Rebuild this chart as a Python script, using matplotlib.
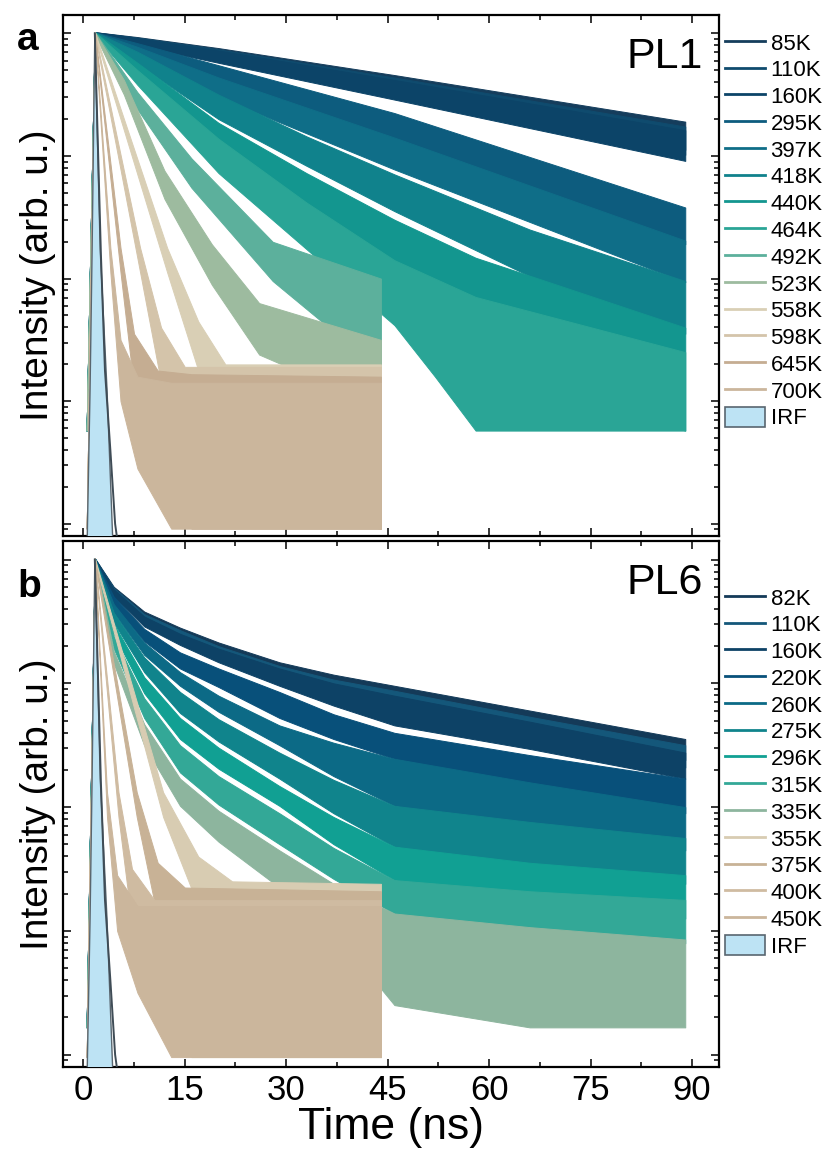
import matplotlib.pyplot as plt
from matplotlib.lines import Line2D
from matplotlib.patches import Patch
from matplotlib.ticker import MultipleLocator, LogLocator, NullFormatter
import numpy as np

plt.rcParams['font.family'] = ['Liberation Sans', 'DejaVu Sans']

# values are log10 of the normalised intensity, read off the figure as the
# upper and lower edge of each noisy trace at a few times (ns)

# ---- PL1 ----
pl1_temps = ['85K', '110K', '160K', '295K', '397K', '418K', '440K',
             '464K', '492K', '523K', '558K', '598K', '645K', '700K']
pl1_colors = ['#153d5c', '#0f4b6e', '#0c4468', '#0d5c7e', '#0f6e88', '#10828c', '#13968f',
              '#2aa596', '#5cb09c', '#9dbb9f', '#d9cfb5', '#d4c4aa', '#c5ad92', '#cbb69c']
pl1_t = [
    [0.5, 1.7, 8, 20, 46, 89],
    [0.5, 1.7, 8, 20, 46, 89],
    [0.5, 1.7, 8, 20, 46, 89],
    [0.5, 1.7, 8, 20, 46, 89],
    [0.5, 1.7, 8, 20, 46, 89],
    [0.5, 1.7, 8, 20, 33, 46, 66, 89],
    [0.5, 1.7, 8, 20, 33, 46, 58, 70, 89],
    [0.5, 1.7, 8, 20, 33, 46, 52, 58, 89],
    [0.5, 1.7, 8, 16, 28, 44],
    [0.5, 1.7, 6, 12, 19, 26, 44],
    [0.5, 1.7, 12.4, 17, 21, 44],
    [0.5, 1.7, 8.4, 11.5, 15, 44],
    [0.5, 1.7, 5.5, 7.5, 11, 16, 44],
    [0.5, 1.7, 4.0, 5.5, 8, 13, 44],
]
pl1_upper = [
    [-3.2, 0.01, -0.03, -0.12, -0.34, -0.72],
    [-3.2, 0.01, -0.035, -0.13, -0.36, -0.76],
    [-3.2, 0.01, -0.04, -0.14, -0.38, -0.79],
    [-3.2, 0.01, -0.08, -0.26, -0.65, -1.42],
    [-3.2, 0.01, -0.11, -0.36, -0.85, -1.69],
    [-3.2, 0.01, -0.15, -0.50, -0.84, -1.15, -1.60, -2.02],
    [-3.2, 0.01, -0.24, -0.73, -1.14, -1.52, -1.83, -2.05, -2.40],
    [-3.2, 0.01, -0.30, -0.86, -1.38, -1.85, -2.00, -2.15, -2.60],
    [-3.2, 0.01, -0.48, -1.02, -1.70, -2.00],
    [-3.2, 0.01, -0.38, -1.12, -1.72, -2.20, -2.50],
    [-4.04, 0.01, -1.75, -2.35, -2.70, -2.70],
    [-4.04, 0.01, -1.75, -2.40, -2.72, -2.72],
    [-4.04, 0.01, -1.75, -2.45, -2.75, -2.78, -2.80],
    [-4.04, 0.01, -1.75, -2.50, -2.80, -2.85, -2.85],
]
pl1_lower = [
    [-3.24, -0.01, -0.09, -0.22, -0.50, -0.95],
    [-3.24, -0.01, -0.095, -0.23, -0.52, -0.99],
    [-3.24, -0.01, -0.10, -0.24, -0.54, -1.04],
    [-3.24, -0.01, -0.16, -0.40, -0.87, -1.72],
    [-3.24, -0.01, -0.19, -0.52, -1.11, -2.03],
    [-3.24, -0.01, -0.25, -0.70, -1.08, -1.45, -1.98, -2.45],
    [-3.24, -0.01, -0.36, -0.97, -1.46, -1.95, -2.40, -2.95, -3.24],
    [-3.24, -0.01, -0.42, -1.14, -1.76, -2.38, -2.80, -3.24, -3.24],
    [-3.24, -0.01, -0.62, -1.26, -2.02, -2.75],
    [-3.24, -0.01, -0.50, -1.35, -2.05, -2.62, -3.05],
    [-4.04, -0.01, -1.95, -2.75, -3.60, -4.04],
    [-4.04, -0.01, -1.95, -2.85, -3.80, -4.04],
    [-4.04, -0.01, -1.95, -2.90, -3.60, -4.04, -4.04],
    [-4.04, -0.01, -1.95, -3.00, -3.55, -4.04, -4.04],
]

# ---- PL6 ----
pl6_temps = ['82K', '110K', '160K', '220K', '260K', '275K', '296K',
             '315K', '335K', '355K', '375K', '400K', '450K']
pl6_colors = ['#143a58', '#14577a', '#0d4266', '#08507a', '#0c6a86', '#10848c', '#11a093',
              '#33a897', '#8db59e', '#d8ccb2', '#c8b296', '#cfbba1', '#cbb69c']
pl6_long_t = [0.5, 1.7, 4.5, 9, 14.3, 20, 29, 37, 46, 66, 89]
pl6_t = [pl6_long_t] * 9 + [
    [0.5, 1.7, 11.8, 17, 22, 44],
    [0.5, 1.7, 7.9, 11, 15, 44],
    [0.5, 1.7, 5.2, 7.2, 10.5, 16, 44],
    [0.5, 1.7, 3.5, 5.0, 8, 13, 44],
]
pl6_upper = [
    [-3.75, 0.01, -0.22, -0.42, -0.55, -0.67, -0.83, -0.93, -1.02, -1.22, -1.45],
    [-3.75, 0.01, -0.23, -0.44, -0.57, -0.70, -0.86, -0.97, -1.06, -1.27, -1.50],
    [-3.75, 0.01, -0.24, -0.46, -0.60, -0.72, -0.88, -1.00, -1.10, -1.31, -1.56],
    [-3.75, 0.01, -0.30, -0.56, -0.75, -0.88, -1.07, -1.25, -1.40, -1.58, -1.77],
    [-3.75, 0.01, -0.36, -0.67, -0.91, -1.10, -1.34, -1.48, -1.61, -1.80, -2.00],
    [-3.75, 0.01, -0.43, -0.79, -1.07, -1.29, -1.56, -1.78, -1.99, -2.12, -2.25],
    [-3.75, 0.01, -0.52, -0.95, -1.28, -1.52, -1.83, -2.08, -2.32, -2.45, -2.55],
    [-3.75, 0.01, -0.62, -1.12, -1.50, -1.75, -2.05, -2.33, -2.59, -2.68, -2.75],
    [-3.75, 0.01, -0.74, -1.33, -1.77, -2.03, -2.35, -2.62, -2.86, -2.97, -3.07],
    [-4.02, 0.01, -1.88, -2.40, -2.60, -2.62],
    [-4.02, 0.01, -1.88, -2.45, -2.65, -2.68],
    [-4.02, 0.01, -1.88, -2.50, -2.75, -2.75, -2.75],
    [-4.02, 0.01, -1.88, -2.55, -2.80, -2.80, -2.80],
]
pl6_lower = [
    [-3.78, -0.01, -0.28, -0.50, -0.64, -0.77, -0.95, -1.08, -1.20, -1.40, -1.62],
    [-3.78, -0.01, -0.29, -0.52, -0.66, -0.80, -0.98, -1.12, -1.25, -1.45, -1.68],
    [-3.78, -0.01, -0.30, -0.54, -0.69, -0.83, -1.02, -1.18, -1.34, -1.53, -1.77],
    [-3.78, -0.01, -0.37, -0.66, -0.88, -1.03, -1.28, -1.45, -1.61, -1.82, -2.05],
    [-3.78, -0.01, -0.43, -0.77, -1.02, -1.23, -1.50, -1.75, -1.99, -2.16, -2.35],
    [-3.78, -0.01, -0.51, -0.91, -1.24, -1.47, -1.77, -2.05, -2.32, -2.48, -2.62],
    [-3.78, -0.01, -0.60, -1.08, -1.45, -1.69, -1.99, -2.30, -2.59, -2.75, -2.90],
    [-3.78, -0.01, -0.72, -1.28, -1.72, -1.98, -2.30, -2.58, -2.86, -3.00, -3.10],
    [-3.78, -0.01, -0.84, -1.50, -1.99, -2.28, -2.65, -3.00, -3.60, -3.78, -3.78],
    [-4.02, -0.01, -2.08, -2.80, -3.60, -4.02],
    [-4.02, -0.01, -2.08, -2.90, -3.75, -4.02],
    [-4.02, -0.01, -2.08, -2.95, -3.55, -4.02, -4.02],
    [-4.02, -0.01, -2.08, -3.00, -3.50, -4.02, -4.02],
]

# instrument response (same in both panels)
irf_t = [0.55, 1.0, 1.3, 1.7, 2.5, 3.5, 4.4]
irf_log = [-4.2, -2.9, -1.77, 0.0, -1.77, -2.9, -4.2]
irf_tail_t = [1.7, 2.6, 3.2, 4.0, 4.7, 5.2]
irf_tail_log = [0.0, -1.8, -2.75, -3.4, -4.0, -4.2]

y_lo, y_hi = 10 ** -4.1, 10 ** 0.15
irf_face = '#bde3f4'
irf_edge = '#59666f'


def draw_panel(ax, temps, colors, t_list, up_list, lo_list):
    for i in range(len(temps)):
        t = np.array(t_list[i])
        ax.fill_between(t, 10 ** np.array(lo_list[i]), 10 ** np.array(up_list[i]),
                        facecolor=colors[i], edgecolor=colors[i], lw=0.7, zorder=2 + i * 0.01)
    ax.fill(irf_t, 10 ** np.array(irf_log), facecolor=irf_face, edgecolor=irf_edge,
            lw=1.0, zorder=3)
    ax.plot(irf_tail_t, 10 ** np.array(irf_tail_log), color='#3f4c56', lw=1.4, zorder=3)

    ax.set_yscale('log')
    ax.set_ylim(y_lo, y_hi)
    ax.set_xlim(-3, 94)
    ax.xaxis.set_major_locator(MultipleLocator(15))
    ax.xaxis.set_minor_locator(MultipleLocator(7.5))
    ax.yaxis.set_major_locator(LogLocator(base=10, numticks=10))
    ax.yaxis.set_minor_locator(LogLocator(base=10, subs=np.arange(2, 10), numticks=10))
    ax.yaxis.set_major_formatter(NullFormatter())
    ax.yaxis.set_minor_formatter(NullFormatter())
    ax.tick_params(which='both', direction='in', top=True, right=True, width=1.1,
                   labelleft=False, labelsize=25, pad=5)
    ax.tick_params(which='major', length=6)
    ax.tick_params(which='minor', length=3.5)
    for s in ax.spines.values():
        s.set_linewidth(1.6)
    ax.set_ylabel('Intensity (arb. u.)', fontsize=28, labelpad=5)

    handles = [Line2D([], [], color=c, lw=2) for c in colors]
    handles.append(Patch(facecolor=irf_face, edgecolor=irf_edge, lw=1.2))
    return handles


fig = plt.figure(figsize=(8.37, 11.53), dpi=100)
ax_a = fig.add_axes([0.0753, 0.5351, 0.7838, 0.4519])
ax_b = fig.add_axes([0.0753, 0.0746, 0.7838, 0.4562])

h_a = draw_panel(ax_a, pl1_temps, pl1_colors, pl1_t, pl1_upper, pl1_lower)
h_b = draw_panel(ax_b, pl6_temps, pl6_colors, pl6_t, pl6_upper, pl6_lower)

ax_a.tick_params(labelbottom=False)
ax_b.set_xlabel('Time (ns)', fontsize=32, labelpad=0)

ax_a.text(0.975, 0.958, 'PL1', transform=ax_a.transAxes, ha='right', va='top', fontsize=31)
ax_b.text(0.975, 0.958, 'PL6', transform=ax_b.transAxes, ha='right', va='top', fontsize=31)
fig.text(17 / 837, 1 - 50 / 1153, 'a', fontsize=28, fontweight='bold')
fig.text(17 / 837, 1 - 597 / 1153, 'b', fontsize=28, fontweight='bold')

leg_kw = dict(loc='upper left', frameon=False, fontsize=16, handlelength=1.8,
              handleheight=1.0, handletextpad=0.25, labelspacing=0.19, borderpad=0,
              borderaxespad=0, bbox_transform=fig.transFigure)
fig.legend(h_a, pl1_temps + ['IRF'], bbox_to_anchor=(725 / 837, 1 - 32 / 1153), **leg_kw)
fig.legend(h_b, pl6_temps + ['IRF'], bbox_to_anchor=(725 / 837, 1 - 587 / 1153), **leg_kw)

fig.savefig('out.png', dpi=100)
